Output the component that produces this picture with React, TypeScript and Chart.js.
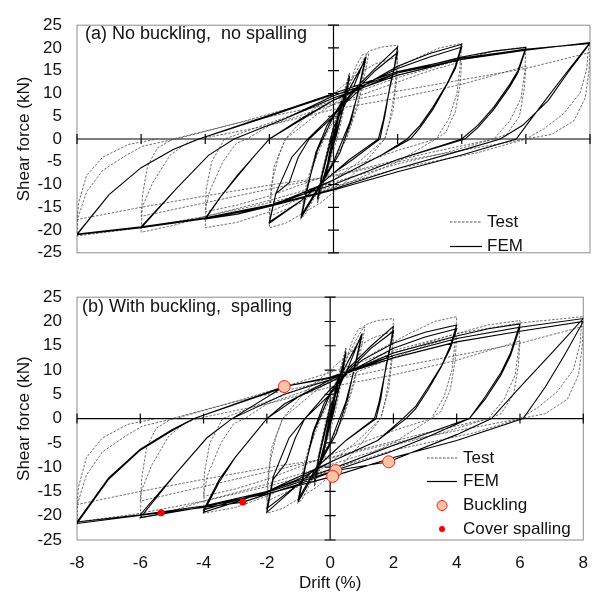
import React, { useEffect, useRef } from 'react';
import { Chart, registerables } from 'chart.js';
Chart.register(...registerables);

type P = [number, number];

const driftTicks = [-8, -6, -4, -2, 0, 2, 4, 6, 8];
const forceTicks = [-25, -20, -15, -10, -5, 0, 5, 10, 15, 20, 25];

// ---------- Test (shared by both panels) ----------
const testSmall: P[] = [
  [0, 0], [0.1, 4], [0.25, 8.5], [0.15, 4], [-0.05, -1], [-0.25, -8.5], [-0.12, -4], [0.05, 1], [0.25, 8.5], [-0.25, -8.5], [-0.1, -3],
  [0.2, 6], [0.5, 14.5], [0.4, 9], [0.15, 1], [-0.5, -14], [-0.4, -8.5], [-0.15, -1], [0.5, 14.5], [0.38, 8.5], [-0.5, -14], [-0.35, -8],
  [0, 3], [0.5, 12], [0.7, 16], [0.9, 18.5], [1.1, 18.8], [1, 15], [0.75, 7], [0.4, 0], [-0.2, -7], [-0.6, -13], [-0.9, -16.8], [-1, -17.2],
  [-0.9, -13], [-0.65, -6], [-0.3, 0], [0.3, 8], [0.8, 15], [1, 17], [0.8, 9], [0.4, 0], [-0.3, -9], [-1, -16.5], [-0.85, -10], [-0.5, -2],
];
const test2: P[] = [
  [0, 5], [0.5, 12], [0.8, 16], [1.1, 19.3], [1.5, 20.2], [2, 20.6], [1.98, 16], [1.9, 10], [1.75, 4], [1.6, 0], [1, -5], [0.3, -10],
  [-0.4, -14], [-1, -16.5], [-1.5, -18.5], [-2, -19.5], [-1.98, -15], [-1.9, -9], [-1.7, -3.5], [-1.5, 0], [-0.8, 5.5], [0, 10],
  [0.7, 14], [1.3, 16.5], [2, 18], [1.97, 13], [1.85, 6], [1.6, 0], [0.8, -5], [0, -9], [-1, -14], [-2, -17],
];
const test4: P[] = [
  [-1.98, -13], [-1.85, -6], [-1.5, 0], [-0.5, 5.5], [0.5, 10], [1.5, 14], [2.5, 17.5], [3.3, 20], [4, 21], [3.95, 16], [3.85, 10],
  [3.6, 4.5], [3.2, 0], [2, -5], [0.5, -9.5], [-1, -13], [-2, -16], [-3, -18.3], [-4, -19.5], [-3.98, -15], [-3.87, -11.6], [-3.45, -5],
  [-3.04, -1], [-2.7, 0], [-2, 3], [0, 7.5], [2, 12.5], [3, 15], [4, 17], [3.95, 12], [3.8, 6], [3.5, 1.5], [3.2, 0], [2, -2.5], [0, -7.5],
  [-2, -12.5], [-3, -14.5], [-4, -16],
];
const test6: P[] = [
  [-3.97, -11], [-3.8, -5], [-3.4, 0], [-2, 3.5], [0, 8.5], [2, 13.5], [4, 17.5], [5, 19.3], [6, 20.2], [5.97, 15], [5.85, 9],
  [5.5, 4], [5, 0], [3.5, -3], [2, -5.5], [0, -9.5], [-2, -13.5], [-4, -17], [-5, -19], [-6, -20.5], [-5.97, -15], [-5.64, -9.6],
  [-5.1, -3.6], [-4.6, -1], [-4.2, 0], [-2, 3], [0, 6.5], [2, 9], [4, 12], [6, 16], [5.95, 11], [5.8, 5], [5.4, 1], [5, 0], [3, -3],
  [0, -8], [-3, -12.5], [-6, -17],
];
const test8: P[] = [
  [-5.95, -12], [-5.8, -6], [-5.5, -2], [-5, 0], [-3, 3.5], [-1, 7.5], [0, 9.5], [2, 14], [4, 17.5], [6, 19.7], [8, 21],
  [7.94, 19.3], [7.9, 15.4], [7.69, 10.1], [7.17, 5.5], [6.55, 2.2], [6, 0], [4.5, -3], [2, -6.5], [0, -10.5], [-2, -14], [-4, -17],
  [-6, -19.5], [-8, -21.3], [-7.98, -17.5], [-7.7, -11.6], [-7.2, -6.9], [-6.47, -3.6], [-5.95, -1.6], [-5.4, -0.7], [-4.9, 0],
  [-3, 3.5], [0, 7.8], [2, 10.5], [4, 13], [6, 15.5], [8, 19], [7.97, 15], [7.85, 9], [7.5, 4], [6.8, 1], [6, 0], [4, -2.5], [2, -5],
  [0, -8.2], [-1.8, -9.9], [-4, -12.5], [-6, -15], [-8, -17.7], [-7.95, -14], [-7.7, -8], [-7.2, -4], [-6.4, -1.2], [-5.5, 0],
];

// ---------- FEM, panel (a) ----------
const femASmall: P[] = [
  [0, 0], [0.12, 4], [0.25, 8], [0.15, 4.5], [0, -1], [-0.12, -4.5], [-0.25, -8], [-0.15, -4], [0, 1], [0.25, 8.3], [0.12, 3.5],
  [-0.25, -8.2], [-0.1, -2.5], [0.2, 6], [0.5, 13.5], [0.35, 8.5], [0.1, 1], [-0.2, -6], [-0.5, -13], [-0.35, -8], [-0.1, -1],
  [0.2, 5.5], [0.5, 13.8], [0.35, 8], [-0.5, -13.2], [-0.35, -7.5], [0, 2.5], [0.6, 11], [1, 18], [0.8, 11.5], [0.55, 4], [0.2, -3],
  [-0.3, -9], [-1, -17.2], [-0.8, -10.5], [-0.55, -3], [-0.2, 3], [0.3, 8.5], [1, 17.5], [0.8, 11], [0.5, 3.5], [0, -5], [-1, -16.8],
  [-0.8, -10], [-0.5, -2.5],
];
const femA2: P[] = [
  [0, 5], [0.6, 10.5], [1.3, 15.5], [2, 20.2], [1.9, 16], [1.77, 12], [1.6, 5], [1.45, 0], [0.6, -4.5], [0, -7.5], [-1, -13.5],
  [-2, -18.5], [-1.8, -12], [-1.38, -9.6], [-1.1, -4], [-0.76, 0], [0, 5], [0.6, 10], [1.3, 15], [2, 19], [1.88, 15], [1.75, 11],
  [1.55, 4], [1.4, 0], [0.5, -4.5], [0, -7.5], [-1, -13.5], [-2, -18.2],
];
const femA4: P[] = [
  [-1.8, -12], [-1.3, -4], [-0.8, 0], [0, 5.5], [1, 12], [2, 16], [3, 18.8], [4, 20.8], [3.8, 16], [3.53, 12], [3.1, 7], [2.7, 3],
  [2.3, 0], [1.5, -3.5], [0, -9], [-1, -12.3], [-2, -14.8], [-3, -16.5], [-4, -17.6], [-3.5, -12.5], [-3, -8.2], [-2.5, -4],
  [-2, 0], [-1, 4.5], [0, 8.5], [1, 12], [2, 15.5], [3, 18], [4, 20.2], [3.8, 15.5], [3.5, 11.5], [3.1, 6.5], [2.7, 2.5], [2.4, 0],
  [1.5, -3.5], [0, -9], [-2, -14.8], [-4, -17.4],
];
const femA6: P[] = [
  [-3.5, -12.5], [-3, -8], [-2, 0], [0, 8.5], [2, 14.5], [4, 18], [5, 19.3], [6, 20.1], [5.75, 15], [5.5, 12], [5, 7], [4.5, 3],
  [4, 0], [2, -4.5], [0, -10], [-2, -14.5], [-4, -17.3], [-6, -19.5], [-4.9, -10.9], [-3.9, -3.6], [-3.1, 0], [-1.5, 4.5], [0, 9],
  [2, 14], [4, 17.5], [6, 19.8], [5.75, 14.5], [5.5, 11.5], [5, 6.5], [4.5, 2.5], [4.1, 0], [2, -4.5], [0, -10], [-2, -14.5],
  [-4, -17.3], [-6, -19.3],
];
const femA8: P[] = [
  [-4.9, -10.9], [-3.9, -3.6], [-3.1, 0], [-1.5, 4.5], [0, 9.5], [2, 14.5], [4, 17.5], [6, 19.5], [8, 21.2], [7.2, 14], [6.55, 8],
  [6.1, 3.8], [5.7, 0], [4, -3.5], [2, -7.2], [0, -11.2], [-2, -14.8], [-4, -17.5], [-6, -19.5], [-8, -21], [-7, -12.2], [-6, -6.3],
  [-5, -2.3], [-4.2, 0], [-2, 5.2], [0, 10], [2, 14.8], [4, 17.8], [6, 19.7], [8, 21], [7.3, 14.5], [6.7, 8.5], [5.9, 3],
  [5.2, 0], [4, -2.5], [2, -6.5], [0, -11], [-2, -14.6], [-4, -17.3], [-6, -19.3], [-8, -20.9], [-7, -12.2], [-6, -6.3], [-5, -2.3],
  [-4.2, 0], [-2, 5], [0, 9.8],
];

// ---------- FEM, panel (b) ----------
const femBSmall: P[] = [
  [0, 0], [0.12, 4], [0.25, 8], [0.15, 4.5], [0, -1], [-0.12, -4.5], [-0.25, -8], [-0.15, -4], [0, 1], [0.25, 8.3], [0.12, 3.5],
  [-0.25, -8.2], [-0.1, -2.5], [0.2, 6], [0.5, 13.5], [0.35, 8.5], [0.1, 1], [-0.2, -6], [-0.5, -13], [-0.35, -8], [-0.1, -1],
  [0.2, 5.5], [0.5, 13.8], [0.35, 8], [-0.5, -13.2], [-0.35, -7.5], [0, 2.5], [0.6, 11], [1, 17.5], [0.8, 11.5], [0.55, 4],
  [0.2, -3], [-0.3, -9], [-1, -17], [-0.8, -10.5], [-0.55, -3], [-0.2, 3], [0.3, 8.5], [1, 17], [0.8, 11], [0.5, 3.5], [0, -5],
  [-1, -16.5], [-0.8, -10], [-0.5, -2.5],
];
const femB2: P[] = [
  [0, 5], [0.6, 10.5], [1.3, 15], [2, 19], [1.9, 15], [1.77, 11], [1.6, 4], [1.45, 0], [0.5, -4.5], [0, -7.5], [-1, -13.5],
  [-2, -19.3], [-1.8, -12.5], [-1.38, -9], [-1.1, -4], [-0.8, 0], [0, 5], [0.6, 10], [1.3, 14.5], [2, 18], [1.88, 14], [1.75, 10],
  [1.55, 3.5], [1.4, 0], [0.5, -4.5], [0, -7.5], [-1, -13.5], [-2, -18.5],
];
const femB4: P[] = [
  [-1.8, -12], [-1.3, -4], [-0.8, 0], [0, 6], [1, 12], [2, 15.5], [3, 17.8], [4, 19.3], [3.8, 15], [3.53, 11], [3.1, 6.5],
  [2.7, 2.5], [2.3, 0], [1.5, -4.5], [0, -9], [-1, -12.5], [-2, -15], [-3, -17.2], [-4, -19.3], [-3.5, -13], [-3, -8], [-2.5, -4],
  [-2, 0], [-1, 4.5], [0, 7.5], [1, 11], [2, 14.5], [3, 16.8], [4, 18.5], [3.8, 14.5], [3.5, 10.5], [3.1, 6], [2.7, 2], [2.4, 0],
  [1.5, -4.5], [0, -9], [-2, -15], [-4, -18.8],
];
const femB6: P[] = [
  [-3.5, -12.5], [-3, -8], [-2, 0], [-1.45, 3], [0, 8], [2, 13.5], [4, 17], [5, 18.5], [6, 19.5], [5.7, 13.5], [5.4, 9.5],
  [4.9, 4.5], [4.4, 0], [3, -4], [1.85, -7], [0, -11], [-2, -15.2], [-2.76, -16.5], [-4, -18.2], [-6, -20.4], [-4.9, -11.5],
  [-3.9, -4], [-3.1, 0], [-1.45, 5], [0, 8], [2, 13], [4, 16.5], [6, 18.8], [5.7, 13], [5.4, 9], [4.9, 4], [4.4, 0], [2, -5.5],
  [0, -10.5], [-2, -15], [-4, -18], [-6, -19.8],
];
const femB8: P[] = [
  [-4.9, -11.5], [-3.9, -4], [-3.1, 0], [-1.45, 6.6], [0, 8.5], [2, 13], [4, 16.5], [6, 18.8], [8, 20.6], [7, 13.5], [6, 6.5],
  [5.1, 0], [4, -3.3], [1.85, -8.9], [0.18, -10.7], [-1, -13.5], [-2.76, -17.2], [-4, -18.3], [-5.34, -19.4], [-8, -21.6],
  [-7, -12.5], [-6, -6.5], [-5, -2.5], [-4.3, 0], [-1.45, 6.6], [0, 8.3], [2, 12.5], [4, 15.8], [6, 18], [8, 20], [7.4, 13],
  [6.8, 6.5], [6.1, 0], [4, -4.5], [2, -8], [0.08, -11.9], [-2, -15.5], [-4, -18], [-6, -19.8], [-8, -21.3], [-7, -12.2],
  [-6, -6.3], [-5, -2.3], [-4.3, 0], [-1.45, 6.4],
];

const bucklingPts: P[] = [[-1.45, 6.6], [1.85, -8.9], [0.18, -10.7], [0.08, -11.9]];
const spallingPts: P[] = [[-5.34, -19.4], [-2.76, -17.2]];

const testAll: P[] = [...testSmall, ...test2, ...test4, ...test6, ...test8];
const femAAll: P[] = [...femASmall, ...femA2, ...femA4, ...femA6, ...femA8];
const femBAll: P[] = [...femBSmall, ...femB2, ...femB4, ...femB6, ...femB8];

const FONT = '"Liberation Sans", Arial, sans-serif';
const FS = 17;

const toXY = (arr: P[]) => arr.map(([x, y]) => ({ x, y }));

interface LegendItem { kind: 'dash' | 'line' | 'buck' | 'spall'; text: string; y: number }
interface PanelSpec {
  title: string; titleX: number; titleY: number;
  legendLineX: number[]; legendTextX: number; legend: LegendItem[];
  showX: boolean;
}

const overlayPlugin = {
  id: 'overlay',
  beforeDatasetsDraw(chart: any) {
    const { ctx, chartArea: a, scales } = chart;
    const xs = scales.x, ys = scales.y;
    ctx.save();
    ctx.strokeStyle = '#8c8c8c';
    ctx.lineWidth = 1;
    ctx.strokeRect(a.left, a.top, a.right - a.left, a.bottom - a.top);
    const x0 = xs.getPixelForValue(0);
    const y0 = ys.getPixelForValue(0);
    ctx.strokeStyle = '#000';
    ctx.lineWidth = 1.2;
    ctx.beginPath();
    ctx.moveTo(a.left, y0); ctx.lineTo(a.right, y0);
    ctx.moveTo(x0, a.top); ctx.lineTo(x0, a.bottom);
    driftTicks.forEach((v) => {
      const px = xs.getPixelForValue(v);
      ctx.moveTo(px, y0 - 5); ctx.lineTo(px, y0 + 5);
    });
    forceTicks.forEach((v) => {
      const py = ys.getPixelForValue(v);
      ctx.moveTo(x0 - 5.5, py); ctx.lineTo(x0 + 5.5, py);
    });
    ctx.stroke();
    ctx.restore();
  },
  afterDatasetsDraw(chart: any, _args: any, opts: any) {
    const spec: PanelSpec = opts.spec;
    if (!spec) return;
    const { ctx } = chart;
    ctx.save();
    ctx.fillStyle = '#111';
    ctx.textBaseline = 'middle';
    ctx.textAlign = 'left';
    ctx.font = `18px ${FONT}`;
    ctx.fillText(spec.title, spec.titleX, spec.titleY);
    ctx.font = `${FS}px ${FONT}`;
    const [l0, l1] = spec.legendLineX;
    spec.legend.forEach((it) => {
      if (it.kind === 'dash' || it.kind === 'line') {
        ctx.save();
        ctx.strokeStyle = it.kind === 'dash' ? '#444' : '#000';
        ctx.lineWidth = it.kind === 'dash' ? 0.9 : 1.2;
        ctx.setLineDash(it.kind === 'dash' ? [2.5, 1.5] : []);
        ctx.beginPath(); ctx.moveTo(l0, it.y); ctx.lineTo(l1, it.y); ctx.stroke();
        ctx.restore();
      } else if (it.kind === 'buck') {
        ctx.beginPath(); ctx.arc((l0 + l1) / 2, it.y, 5, 0, Math.PI * 2);
        ctx.fillStyle = '#f8c6a6'; ctx.fill();
        ctx.strokeStyle = '#ff1a1a'; ctx.lineWidth = 1; ctx.stroke();
      } else {
        ctx.beginPath(); ctx.arc((l0 + l1) / 2, it.y, 3, 0, Math.PI * 2);
        ctx.fillStyle = '#ff0000'; ctx.fill();
      }
      ctx.fillStyle = '#111';
      ctx.fillText(it.text, spec.legendTextX, it.y);
    });
    ctx.restore();
  },
};

function makeConfig(datasets: any[], spec: PanelSpec, xAxisHeight: number): any {
  const font = { family: FONT, size: FS };
  return {
    type: 'scatter',
    data: { datasets },
    options: {
      animation: false,
      responsive: false,
      maintainAspectRatio: false,
      events: [],
      layout: { padding: { left: 0, right: 11, top: 14.7, bottom: 0 } },
      plugins: {
        legend: { display: false },
        tooltip: { enabled: false },
        overlay: { spec },
      },
      scales: {
        x: {
          type: 'linear', min: -8, max: 8,
          afterBuildTicks: (s: any) => { s.ticks = driftTicks.map((v) => ({ value: v })); },
          afterFit: (s: any) => { s.height = xAxisHeight; },
          grid: { display: false, drawTicks: false },
          border: { display: false },
          ticks: { display: spec.showX, padding: 13, color: '#111', font, callback: (v: any) => String(v), maxRotation: 0 },
          title: { display: spec.showX, text: 'Drift (%)', color: '#111', font, padding: { top: 0, bottom: -2 } },
        },
        y: {
          type: 'linear', min: -25, max: 25,
          afterBuildTicks: (s: any) => { s.ticks = forceTicks.map((v) => ({ value: v })); },
          afterFit: (s: any) => { s.width = 77; },
          grid: { display: false, drawTicks: false },
          border: { display: false },
          ticks: { padding: 15, color: '#111', font, callback: (v: any) => String(v) },
          title: { display: true, text: 'Shear force (kN)', color: '#111', font, padding: { top: 14.3, bottom: 0 } },
        },
      },
    },
    plugins: [overlayPlugin],
  };
}

const testStyle = { label: 'Test', showLine: true, borderColor: '#4a4a4a', borderWidth: 0.8, borderDash: [2.5, 1.5], pointRadius: 0, fill: false, order: 3 };
const femStyle = { label: 'FEM', showLine: true, borderColor: '#000', borderWidth: 1.1, pointRadius: 0, fill: false, order: 2 };

export default function App() {
  const topRef = useRef<HTMLCanvasElement>(null);
  const botRef = useRef<HTMLCanvasElement>(null);
  useEffect(() => {
    const specA: PanelSpec = {
      title: '(a) No buckling,  no spalling', titleX: 85, titleY: 34,
      legendLineX: [450, 482], legendTextX: 487,
      legend: [{ kind: 'dash', text: 'Test', y: 222 }, { kind: 'line', text: 'FEM', y: 246.5 }],
      showX: false,
    };
    const specB: PanelSpec = {
      title: '(b) With buckling,  spalling', titleX: 82, titleY: 35.5,
      legendLineX: [427, 457], legendTextX: 463,
      legend: [
        { kind: 'dash', text: 'Test', y: 186 },
        { kind: 'line', text: 'FEM', y: 209.5 },
        { kind: 'buck', text: 'Buckling', y: 233.5 },
        { kind: 'spall', text: 'Cover spalling', y: 257 },
      ],
      showX: true,
    };
    const top = new Chart(topRef.current!, makeConfig([
      { ...femStyle, data: toXY(femAAll) },
      { ...testStyle, data: toXY(testAll) },
    ], specA, 11));
    const bot = new Chart(botRef.current!, makeConfig([
      { label: 'Buckling', data: toXY(bucklingPts), pointRadius: 6, pointBackgroundColor: '#f8c6a6', pointBorderColor: '#ff1a1a', pointBorderWidth: 1, showLine: false, order: 0 },
      { label: 'Cover spalling', data: toXY(spallingPts), pointRadius: 3.5, pointBackgroundColor: '#ff0000', pointBorderColor: '#ff0000', pointBorderWidth: 0, showLine: false, order: 1 },
      { ...femStyle, data: toXY(femBAll) },
      { ...testStyle, data: toXY(testAll) },
    ], specB, 52));
    return () => { top.destroy(); bot.destroy(); };
  }, []);
  return (
    <div style={{ position: 'absolute', left: 0, top: 0, width: 601, height: 592, background: '#fff', overflow: 'hidden' }}>
      <canvas ref={topRef} width={601} height={278} style={{ position: 'absolute', left: 0, top: 0, width: 601, height: 278 }} />
      <canvas ref={botRef} width={601} height={320} style={{ position: 'absolute', left: 0, top: 272, width: 601, height: 320 }} />
    </div>
  );
}
